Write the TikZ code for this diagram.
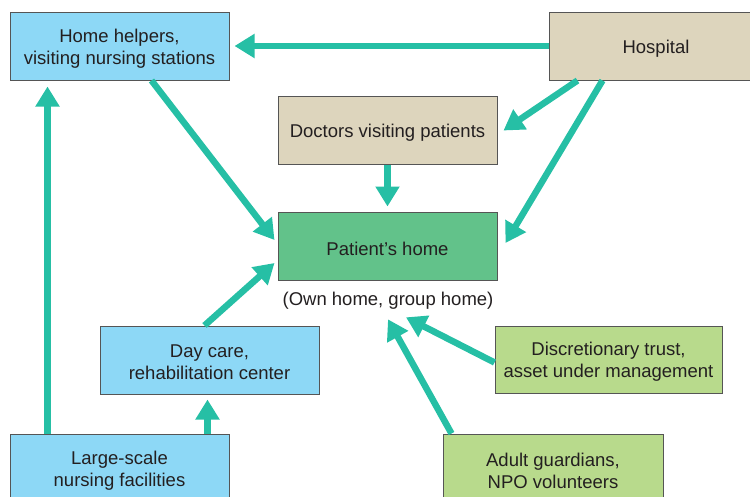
\documentclass[tikz,border=0pt]{standalone}
\usepackage{fontspec}
\setmainfont{Liberation Sans}
\usetikzlibrary{arrows.meta,calc}
\definecolor{boxblue}{HTML}{8DD8F6}
\definecolor{boxbeige}{HTML}{DDD5BD}
\definecolor{boxdgreen}{HTML}{62C28A}
\definecolor{boxlgreen}{HTML}{B8DA8C}
\definecolor{teal}{HTML}{26BFA5}
\definecolor{edge}{HTML}{555555}
\definecolor{txt}{HTML}{231F20}
\tikzset{
  box/.style={draw=edge, line width=1pt, minimum width=219pt, minimum height=68pt, inner sep=0pt},
  lbl/.style={align=center, text=txt, inner sep=0pt, yshift=-2.5pt, font=\fontsize{18.5}{22}\selectfont},
  conn/.style={draw=teal, line width=6.5pt, -{Triangle[length=20pt,width=23pt]}},
}
\begin{document}
\begin{tikzpicture}[x=1pt,y=-1pt]
\useasboundingbox (0,0) rectangle (750,496);
\node[box, fill=boxblue, label={[lbl]center:{Home helpers,\\visiting nursing stations}}] (hh) at (119.5,46) {};
\node[box, fill=boxbeige, minimum width=214pt, label={[lbl]center:Hospital}] (hosp) at (656,46) {};
\node[box, fill=boxbeige, label={[lbl]center:Doctors visiting patients}] (doc) at (387.5,130.5) {};
\node[box, fill=boxdgreen, label={[lbl]center:Patient’s home}] (ph) at (387.5,246) {};
\node[lbl, yshift=0pt] (own) at (388,298) {(Own home, group home)};
\node[box, fill=boxblue, label={[lbl]center:{Day care,\\rehabilitation center}}] (dc) at (209.5,360) {};
\node[box, fill=boxblue, label={[lbl]center:{Large-scale\\nursing facilities}}] (ls) at (119.5,468) {};
\node[box, fill=boxlgreen, minimum width=227pt, minimum height=67pt, label={[lbl]center:{Discretionary trust,\\asset under management}}] (dt) at (608.5,359.5) {};
\node[box, fill=boxlgreen, minimum width=220pt, label={[lbl]center:{Adult guardians,\\NPO volunteers}}] (ag) at (553,468) {};
% connectors
\draw[conn] (hosp.west) -- ($(hh.east)+(5,0)$);
\draw[conn] ($(hosp.south west)+(29,0)$) -- ($(doc.east)+(6,0)$);
\draw[conn] ($(hosp.south west)+(54,0)$) -- ($(ph.east)+(8,-3)$);
\draw[conn] (doc.south) -- ($(ph.north)+(0,-5)$);
\draw[conn] ($(hh.south west)+(142,0)$) -- ($(ph.west)+(-3,-6)$);
\draw[conn] ($(dc.north west)+(105,0)$) -- ($(ph.west)+(-3,17)$);
\draw[conn] ($(ls.north west)+(38,0)$) -- ($(hh.south west)+(38,6)$);
\draw[conn] ($(ls.north west)+(198,0)$) -- ($(dc.south west)+(108,5)$);
\draw[conn] ($(dt.west)+(0,3)$) -- ($(own.south)+(18,8)$);
\draw[conn] ($(ag.north west)+(9,0)$) -- ($(own.south)+(0,10)$);
\end{tikzpicture}
\end{document}
